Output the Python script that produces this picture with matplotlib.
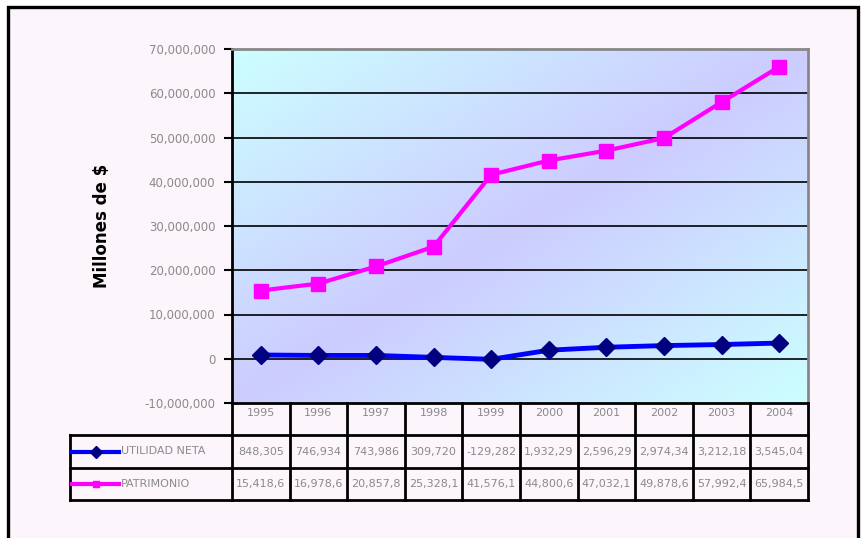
import numpy as np
import matplotlib
matplotlib.use("Agg")
import matplotlib.pyplot as plt
from matplotlib.patches import Rectangle
from matplotlib.lines import Line2D
from matplotlib.transforms import blended_transform_factory

# --- data ---
years = ["1995", "1996", "1997", "1998", "1999", "2000", "2001", "2002", "2003", "2004"]
utilidad_neta = [848305, 746934, 743986, 309720, -129282,
                 1932290, 2596290, 2974340, 3212180, 3545040]
patrimonio = [15418600, 16978600, 20857800, 25328100, 41576100,
              44800600, 47032100, 49878600, 57992400, 65984500]
series_names = ["UTILIDAD NETA", "PATRIMONIO"]
yticks = np.arange(-10_000_000, 70_000_001, 10_000_000)

blue = "#0000ff"
navy = "#000080"
magenta = "#ff00ff"
txt_gray = "#8a8a8a"
narrow = ["Liberation Sans Narrow", "DejaVu Sans"]

fig = plt.figure(figsize=(8.67, 5.38), dpi=100)
fig.patch.set_facecolor("white")

# outer chart frame
frame = Rectangle((8 / 867, -0.05), (858 - 8) / 867, 1 - 7 / 538 + 0.05,
                  transform=fig.transFigure, facecolor="#fcf5fc",
                  edgecolor="black", linewidth=2.4, zorder=0)
fig.add_artist(frame)

ax = fig.add_axes([232 / 867, 1 - 403 / 538, 576 / 867, 354 / 538])
n = len(years)
x = np.arange(n) + 0.5
ymin, ymax = -10_000_000, 70_000_000

# diagonal gradient background: cyan corners, lavender along the anti-diagonal
gx, gy = np.meshgrid(np.linspace(0, 1, 300), np.linspace(0, 1, 200))
t = np.abs(gx + gy - 1)
cyan = np.array([0.80, 1.0, 1.0])
lav = np.array([0.80, 0.80, 1.0])
img = lav + (cyan - lav) * t[..., None]
ax.imshow(img, extent=[0, n, ymin, ymax], aspect="auto",
          origin="upper", zorder=0)
ax.set_xlim(0, n)
ax.set_ylim(ymin, ymax)

for yv in yticks[1:-1]:
    ax.axhline(yv, color="black", linewidth=1.2, zorder=1)

ax.plot(x, utilidad_neta, color=blue, linewidth=3.5, zorder=3,
        marker="D", markersize=9, markerfacecolor=navy, markeredgecolor=navy)
ax.plot(x, patrimonio, color=magenta, linewidth=3, zorder=3,
        marker="s", markersize=10, markerfacecolor=magenta, markeredgecolor=magenta)

ax.set_yticks(yticks)
ax.set_yticklabels([f"{v:,}" for v in yticks], color=txt_gray, fontsize=8.5,
                   family=narrow)
ax.tick_params(axis="y", direction="out", length=6, width=1.5, color="black", pad=6)
ax.set_xticks([])
for side in ("top", "right"):
    ax.spines[side].set_color("#888888")
    ax.spines[side].set_linewidth(2)
for side in ("left", "bottom"):
    ax.spines[side].set_color("black")
    ax.spines[side].set_linewidth(2)

ax.set_ylabel("Millones de $", fontsize=12, fontweight="bold", labelpad=24)

# --- data table below the plot ---
tr = blended_transform_factory(ax.transData, ax.transAxes)
h_top = 0.0
h_bot = -32 / 354
r1_bot = -65 / 354
r2_bot = -97 / 354
leg_left = -162 / 57.6


def hline(x0, x1, y):
    ax.add_line(Line2D([x0, x1], [y, y], transform=tr, color="black",
                       linewidth=2, clip_on=False))


def vline(xv, y0, y1):
    ax.add_line(Line2D([xv, xv], [y0, y1], transform=tr, color="black",
                       linewidth=2, clip_on=False))


hline(leg_left, n, h_bot)
hline(leg_left, n, r1_bot)
hline(leg_left, n, r2_bot)
for i in range(n + 1):
    vline(i, h_top, r2_bot)
vline(leg_left, h_bot, r2_bot)

for i, yr in enumerate(years):
    ax.text(x[i], -10 / 354, yr, transform=tr, ha="center", va="center",
            color=txt_gray, fontsize=8, family=narrow, clip_on=False)

rows = [(utilidad_neta, (h_bot + r1_bot) / 2), (patrimonio, (r1_bot + r2_bot) / 2)]
for vals, yc in rows:
    for i, v in enumerate(vals):
        ax.text(x[i], yc, f"{v:,}"[:8], transform=tr, ha="center", va="center",
                color=txt_gray, fontsize=8, family=narrow, clip_on=False)

# legend keys inside the table
key_x0, key_x1 = leg_left + 0.04, leg_left + 0.85
key_mid = (key_x0 + key_x1) / 2
styles = [(blue, "D", navy, 6), (magenta, "s", magenta, 4)]
for (vals, yc), name, (lc, mk, mc, ms) in zip(rows, series_names, styles):
    ax.add_line(Line2D([key_x0, key_x1], [yc, yc], transform=tr, color=lc,
                       linewidth=3, clip_on=False))
    ax.add_line(Line2D([key_mid], [yc], transform=tr, marker=mk, markersize=ms,
                       markerfacecolor=mc, markeredgecolor=mc, linestyle="none",
                       clip_on=False))
    ax.text(key_x1 + 0.04, yc, name, transform=tr, ha="left", va="center",
            color=txt_gray, fontsize=8, family=narrow, clip_on=False)

fig.savefig("out.png", dpi=100)
